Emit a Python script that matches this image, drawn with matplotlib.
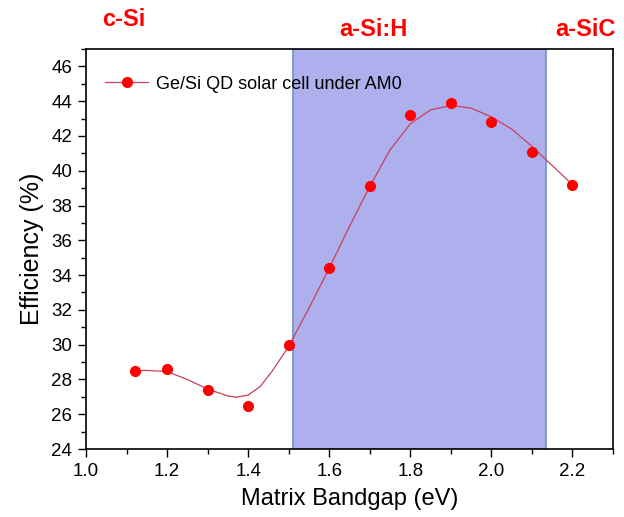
import matplotlib
matplotlib.use("Agg")
import matplotlib.pyplot as plt
from matplotlib.lines import Line2D
from matplotlib.ticker import MultipleLocator

plt.rcParams["font.family"] = ["Liberation Sans", "DejaVu Sans"]

bandgap = [1.12, 1.2, 1.3, 1.4, 1.5, 1.6, 1.7, 1.8, 1.9, 2.0, 2.1, 2.2]
efficiency = [28.5, 28.6, 27.4, 26.5, 30.0, 34.4, 39.1, 43.2, 43.9, 42.8, 41.1, 39.2]

# smooth guide-line
fit_x = [1.12, 1.15, 1.2, 1.25, 1.3, 1.35, 1.37, 1.4, 1.43, 1.46, 1.5,
         1.55, 1.6, 1.65, 1.7, 1.75, 1.8, 1.85, 1.9, 1.95, 2.0, 2.05,
         2.1, 2.15, 2.2]
fit_y = [28.5, 28.52, 28.45, 28.0, 27.45, 27.05, 26.98, 27.1, 27.6, 28.5, 29.9,
         32.1, 34.4, 36.8, 39.1, 41.2, 42.7, 43.5, 43.75, 43.6, 43.1, 42.4,
         41.4, 40.3, 39.2]

# a-Si:H bandgap window
shade_lo, shade_hi = 1.51, 2.135

region_labels = ["c-Si", "a-Si:H", "a-SiC"]

fig = plt.figure(figsize=(6.24, 5.17), dpi=100)
ax = fig.add_axes([0.1378, 0.1315, 0.8446, 0.7737])

ax.axvspan(shade_lo, shade_hi, facecolor="#aeb0ed", edgecolor="#6f8fc8",
           linewidth=1.2, zorder=0)
ax.plot(fit_x, fit_y, color="#c8405a", linewidth=0.9, zorder=2)
ax.plot(bandgap, efficiency, "o", color="#ff0000", markersize=7, zorder=3)

handle = Line2D([], [], color="#c8405a", linewidth=0.9, marker="o",
                markerfacecolor="#ff0000", markeredgecolor="#ff0000",
                markersize=7)
ax.legend([handle], ["Ge/Si QD solar cell under AM0"], loc="upper left",
          frameon=False, fontsize=13, handlelength=2.4, handletextpad=0.4,
          bbox_to_anchor=(0.012, 0.965), borderaxespad=0.3)

ax.set_xlim(1.0, 2.3)
ax.set_ylim(24, 47)
ax.xaxis.set_major_locator(MultipleLocator(0.2))
ax.xaxis.set_minor_locator(MultipleLocator(0.1))
ax.yaxis.set_major_locator(MultipleLocator(2))
ax.yaxis.set_minor_locator(MultipleLocator(1))
ax.xaxis.set_major_formatter(plt.FormatStrFormatter("%.1f"))
ax.tick_params(which="major", direction="out", length=6, width=1,
               labelsize=13.5, pad=4)
ax.tick_params(which="minor", direction="out", length=3.5, width=1)
for s in ax.spines.values():
    s.set_linewidth(1.2)

ax.set_xlabel("Matrix Bandgap (eV)", fontsize=17, labelpad=6)
ax.set_ylabel("Efficiency (%)", fontsize=18, labelpad=5)

label_pos = [(124, 20), (373, 30), (585, 30)]
for txt, (px, py) in zip(region_labels, label_pos):
    fig.text(px / 624, 1 - py / 517, txt, color="#ff0000", fontsize=17,
             fontweight="bold", ha="center", va="center")

fig.savefig("out.png", dpi=100)
